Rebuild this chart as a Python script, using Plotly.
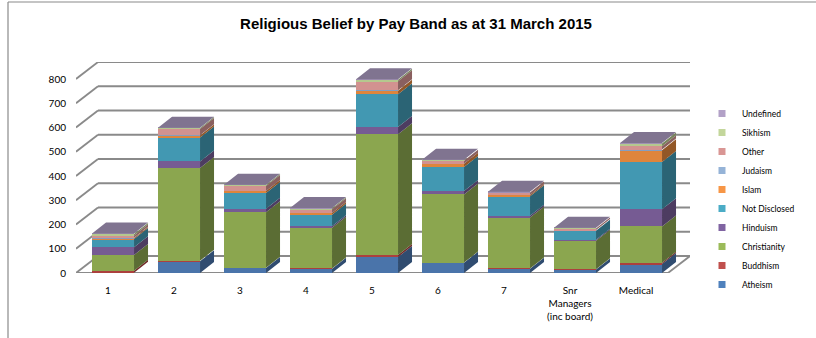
import plotly.graph_objects as go

# ---------------- data ----------------
categories = ["1", "2", "3", "4", "5", "6", "7", "Snr<br>Managers<br>(inc board)", "Medical"]

series_names = ["Atheism", "Buddhism", "Christianity", "Hinduism", "Not Disclosed",
                "Islam", "Judaism", "Other", "Sikhism", "Undefined"]

atheism = [1, 48, 21, 18, 66, 42, 18, 14, 37]
buddhism = [8, 3, 1, 1, 8, 1, 1, 1, 5]
christianity = [65, 382, 229, 168, 498, 281, 210, 118, 150]
hinduism = [32, 27, 14, 6, 30, 14, 7, 4, 71]
not_disclosed = [34, 99, 65, 47, 135, 99, 81, 37, 195]
islam = [4, 8, 8, 7, 15, 14, 5, 3, 48]
judaism = [1, 1, 0, 0, 2, 0, 0, 0, 3]
other = [10, 26, 21, 16, 37, 12, 10, 7, 14]
sikhism = [6, 4, 4, 4, 6, 3, 2, 2, 11]
undefined = [2, 1, 1, 1, 2, 1, 1, 1, 2]

y_ticks = [0, 100, 200, 300, 400, 500, 600, 700, 800]

# ---------------- styles ----------------
legend_colors = ["#4F81BD", "#C0504D", "#9BBB59", "#8064A2", "#4BACC6",
                 "#F79646", "#95B3D7", "#D99694", "#C3D69B", "#B2A1C7"]
front_colors = ["#4A74AA", "#AC403D", "#8BA64F", "#765B93", "#4298B2",
                "#DE853C", "#849EC0", "#D29290", "#B5C88E", "#A091B4"]


def darken(hex_color, f):
    h = hex_color.lstrip("#")
    r, g, b = (int(h[i:i + 2], 16) for i in (0, 2, 4))
    return "#%02x%02x%02x" % (int(r * f), int(g * f), int(b * f))


values = [atheism, buddhism, christianity, hinduism, not_disclosed,
          islam, judaism, other, sikhism, undefined]

W, H = 816, 338
L, R, T, B = 76, 126, 62, 65
plot_w = W - L - R
plot_h = H - T - B
px_per_unit_y = 24.25 / 100.0
y_max = plot_h / px_per_unit_y
slot_px = 66.0
x_lo = -0.561
x_hi = x_lo + plot_w / slot_px

bar_w = 42 / slot_px
bar_dx = 14 / slot_px
bar_dy = 11 / px_per_unit_y
wall_dx = 22 / slot_px
wall_dy = 17 / px_per_unit_y

fig = go.Figure()

# front faces (stacked bars)
for name, vals, col in zip(series_names, values, front_colors):
    fig.add_trace(go.Bar(x=list(range(len(categories))), y=vals, width=bar_w,
                         marker=dict(color=col, line=dict(width=0)),
                         name=name, showlegend=False, hoverinfo="skip"))

# side faces
n = len(categories)
bases = [0.0] * n
for name, vals, col in zip(series_names, values, front_colors):
    xs, ys = [], []
    for i in range(n):
        y0 = bases[i]
        y1 = y0 + vals[i]
        if vals[i] > 0:
            xr = i + bar_w / 2
            xs += [xr, xr + bar_dx, xr + bar_dx, xr, xr, None]
            ys += [y0, y0 + bar_dy, y1 + bar_dy, y1, y0, None]
        bases[i] = y1
    fig.add_trace(go.Scatter(x=xs, y=ys, mode="lines", fill="toself",
                             fillcolor=darken(col, 0.66), line=dict(width=0),
                             showlegend=False, hoverinfo="skip"))

# top faces
xs, ys = [], []
for i in range(n):
    top = bases[i]
    xl, xr = i - bar_w / 2, i + bar_w / 2
    xs += [xl, xl + bar_dx, xr + bar_dx, xr, xl, None]
    ys += [top, top + bar_dy, top + bar_dy, top, top, None]
top_idx = max(k for k in range(len(values)) if values[k][0] > 0)
fig.add_trace(go.Scatter(x=xs, y=ys, mode="lines", fill="toself",
                         fillcolor=darken(front_colors[top_idx], 0.8), line=dict(width=0),
                         showlegend=False, hoverinfo="skip"))

# legend entries
for name, col in zip(series_names, legend_colors):
    fig.add_trace(go.Scatter(x=[None], y=[None], mode="markers", name=name,
                             marker=dict(symbol="square", size=7, color=col)))

# walls / gridlines
grid_col = "#8A8A8A"
shapes = []
for v in y_ticks:
    shapes.append(dict(type="line", xref="x", yref="y", x0=x_lo, y0=v,
                       x1=x_lo + wall_dx, y1=v + wall_dy,
                       line=dict(color=grid_col, width=1.8), layer="below"))
    shapes.append(dict(type="line", xref="x", yref="y", x0=x_lo + wall_dx, y0=v + wall_dy,
                       x1=x_hi, y1=v + wall_dy,
                       line=dict(color=grid_col, width=1.8), layer="below"))
# floor front edge and right edge
shapes.append(dict(type="line", xref="x", yref="y", x0=x_lo, y0=0, x1=x_hi - wall_dx, y1=0,
                   line=dict(color=grid_col, width=1.8), layer="below"))
shapes.append(dict(type="line", xref="x", yref="y", x0=x_hi - wall_dx, y0=0, x1=x_hi, y1=wall_dy,
                   line=dict(color=grid_col, width=1.8), layer="below"))
# chart frame
fx0 = (8 - L) / plot_w
fy0 = (H - B - 2) / plot_h
shapes.append(dict(type="line", xref="paper", yref="paper", x0=fx0, y0=fy0, x1=(W + 5 - L) / plot_w, y1=fy0,
                   line=dict(color="#8A8A8A", width=1.2)))
shapes.append(dict(type="line", xref="paper", yref="paper", x0=fx0, y0=fy0, x1=fx0, y1=-(B + 5) / plot_h,
                   line=dict(color="#8A8A8A", width=1.2)))

fig.update_layout(
    width=W, height=H,
    margin=dict(l=L, r=R, t=T, b=B),
    paper_bgcolor="white", plot_bgcolor="white",
    barmode="stack",
    shapes=shapes,
    title=dict(text="<b>Religious Belief by Pay Band as at 31 March 2015</b>",
               x=416 / W, xanchor="center", y=1 - 24 / H, yanchor="middle",
               font=dict(family="Liberation Sans Narrow, Arial Narrow, Arial", size=15, color="#000000")),
    xaxis=dict(range=[x_lo, x_hi], tickvals=list(range(n)), ticktext=categories,
               showgrid=False, zeroline=False, showline=False, ticks="",
               ticklabelstandoff=10, ticklabelshift=-5,
               tickfont=dict(family="Lato, Calibri, sans-serif", size=10, color="#000000")),
    yaxis=dict(range=[0, y_max], tickvals=y_ticks, showgrid=False, zeroline=False,
               showline=False, ticks="", ticklabelstandoff=9,
               tickfont=dict(family="Lato, Calibri, sans-serif", size=10, color="#000000")),
    legend=dict(x=(702 - L) / plot_w, xanchor="left", y=(H - B - 99) / plot_h, yanchor="top",
                traceorder="reversed", bgcolor="rgba(0,0,0,0)",
                font=dict(family="Lato, Calibri, sans-serif", size=8.5, color="#000000")),
    showlegend=True,
)

fig.write_html("out.html", config={"displayModeBar": False},
               post_script="document.body.style.margin='0';document.body.style.overflow='hidden';")
